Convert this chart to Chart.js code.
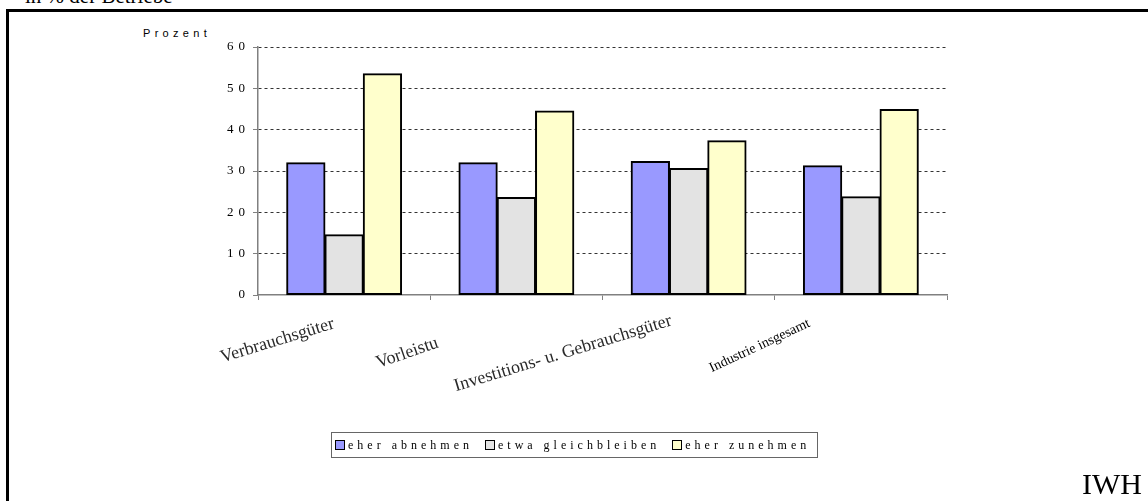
<!DOCTYPE html>
<html>
<head>
<meta charset="utf-8">
<script src="https://cdn.jsdelivr.net/npm/chart.js@4"></script>
<style>
  html, body { margin: 0; padding: 0; background: #fff; }
  body { width: 1148px; height: 501px; position: relative; overflow: hidden; }
  #chart { position: absolute; left: 0; top: 0; }
  .frame { position: absolute; left: 6px; top: 9px; width: 1160px; height: 520px;
           border-top: 3px solid #000; border-left: 3px solid #000; }
  .note { position: absolute; font-family: "Liberation Serif", "DejaVu Serif", serif; color: #000; white-space: nowrap; }
  #title { left: 25px; top: -14px; font-size: 21px; line-height: 1; }
  #iwh { left: 1082px; top: 469px; font-size: 30px; line-height: 1; }
  #unit { position: absolute; left: 143px; top: 28px; font: 11px "Liberation Sans", Arial, sans-serif;
          letter-spacing: 4.3px; line-height: 1; }
  #legend { position: absolute; left: 331px; top: 432px; width: 485px; height: 24px;
            border: 1px solid #666; display: flex; align-items: center; white-space: nowrap;
            font: 12px "Liberation Serif", serif; letter-spacing: 4px; }
  #legend .item { display: flex; align-items: center; margin-left: 3px; margin-right: 9px; white-space: nowrap; flex: none; }
  #legend .sw { width: 8px; height: 8px; border: 1.5px solid #000; margin-right: 3px; flex: none; }
</style>
</head>
<body>
<div class="frame"></div>
<div class="note" id="title">in % der Betriebe</div>
<div id="unit">Prozent</div>
<canvas id="chart" width="1148" height="501"></canvas>
<div id="legend"></div>
<div class="note" id="iwh">IWH</div>
<script>
const categories = ["Verbrauchsgüter", "Vorleistu", "Investitions- u. Gebrauchsgüter", "Industrie insgesamt"];
const seriesNames = ["eher abnehmen", "etwa gleichbleiben", "eher zunehmen"];
const eherAbnehmen = [32.0, 32.0, 32.3, 31.3];
const etwaGleich = [14.6, 23.6, 30.6, 23.8];
const eherZunehmen = [53.5, 44.5, 37.3, 44.9];
const yTicks = [0, 10, 20, 30, 40, 50, 60];

const colors = ["#9999ff", "#e3e3e3", "#ffffcc"];

// where each rotated category label ends, relative to its category centre
const labelStyle = [
  { dx: -9, dy: 33, angle: 17, size: 18, color: "#2a2a2a", blur: 0.7 },
  { dx: -77, dy: 52, angle: 19, size: 18, color: "#2a2a2a", blur: 0.7 },
  { dx: -16, dy: 30, angle: 17, size: 18, color: "#2a2a2a", blur: 0.7 },
  { dx: -50, dy: 31, angle: 25, size: 14, color: "#000", blur: 0 },
];

const legendEl = document.getElementById("legend");
seriesNames.forEach((name, i) => {
  legendEl.insertAdjacentHTML("beforeend",
    `<span class="item"><span class="sw" style="background:${colors[i]}"></span>${name}</span>`);
});

const spacingPlugin = {
  id: "spacing",
  beforeDraw(chart) { chart.ctx.letterSpacing = "5px"; },
};

const xLabels = {
  id: "xLabels",
  afterDraw(chart) {
    const { ctx, scales: { x }, chartArea } = chart;
    categories.forEach((label, i) => {
      const s = labelStyle[i];
      ctx.save();
      ctx.letterSpacing = "0px";
      if (s.blur) ctx.filter = `blur(${s.blur}px)`;
      ctx.translate(x.getPixelForValue(i) + s.dx, chartArea.bottom + s.dy);
      ctx.rotate(-s.angle * Math.PI / 180);
      ctx.font = `${s.size}px "Liberation Serif", serif`;
      ctx.fillStyle = s.color;
      ctx.textAlign = "right";
      ctx.textBaseline = "alphabetic";
      ctx.fillText(label, 0, 0);
      ctx.restore();
    });
  },
};

const Y_W = 60, X_H = 6;

new Chart(document.getElementById("chart"), {
  type: "bar",
  data: {
    labels: categories,
    datasets: [eherAbnehmen, etwaGleich, eherZunehmen].map((d, i) => ({
      label: seriesNames[i],
      data: d,
      backgroundColor: colors[i],
    })),
  },
  options: {
    responsive: false,
    animation: false,
    layout: { padding: { left: 258 - Y_W, right: 1148 - 947, top: 47, bottom: 501 - 295 - X_H } },
    datasets: {
      bar: {
        borderColor: "#000",
        borderWidth: 2,
        borderSkipped: false,
        inflateAmount: 0.5,
        categoryPercentage: 0.667,
        barPercentage: 1.0,
      },
    },
    plugins: { legend: { display: false }, tooltip: { enabled: false } },
    scales: {
      x: {
        afterFit: (s) => { s.height = X_H; },
        ticks: { display: false },
        grid: { drawOnChartArea: false, drawTicks: true, tickLength: 5, color: "#808080", tickColor: "#808080", offset: true },
        border: { color: "#808080", width: 1.5 },
      },
      y: {
        min: 0,
        max: 60,
        afterFit: (s) => { s.width = Y_W; },
        afterBuildTicks: (s) => { s.ticks = yTicks.map((v) => ({ value: v })); },
        ticks: {
          color: "#000",
          padding: 3,
          font: { family: "'Liberation Serif', serif", size: 13 },
        },
        grid: {
          color: (c) => (c.tick && c.tick.value === 0 ? "rgba(0,0,0,0)" : "#333"),
          tickColor: "#808080",
          tickLength: 5,
          tickBorderDash: [],
          lineWidth: 1,
        },
        border: { color: "#808080", width: 1.5, dash: [3, 3] },
      },
    },
  },
  plugins: [spacingPlugin, xLabels],
});
</script>
</body>
</html>
